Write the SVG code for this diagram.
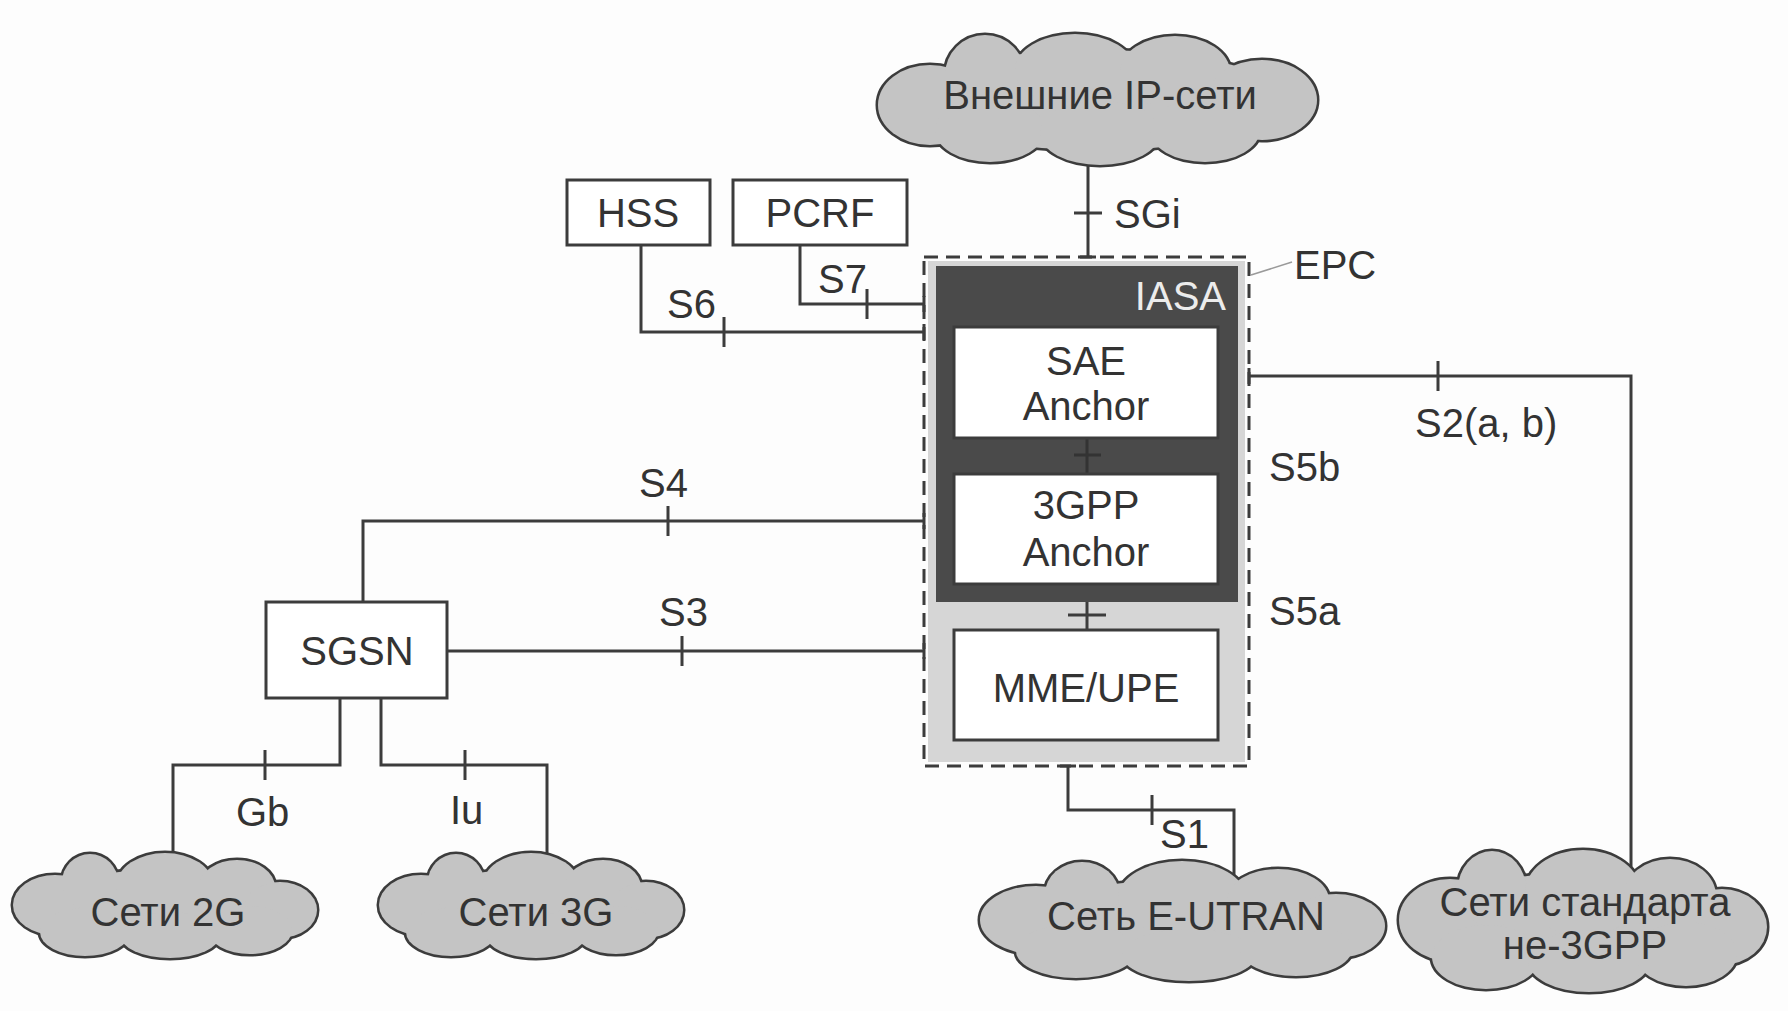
<svg xmlns="http://www.w3.org/2000/svg" xmlns:xlink="http://www.w3.org/1999/xlink" width="1788" height="1011" viewBox="0 0 1788 1011">
<style>
.ln{stroke:#3c3c3c;stroke-width:3;fill:none}
.box{fill:#fff;stroke:#3c3c3c;stroke-width:3}
.cs{fill:#3c3c3c;stroke:#3c3c3c;stroke-width:5}
.cf{fill:#c4c4c4;stroke:none}
.t{font-family:"Liberation Sans",Arial,sans-serif;font-size:40px;fill:#333}
.m{text-anchor:middle}
</style>
<defs>
<g id="shIP">
<ellipse cx="1097" cy="100" rx="190" ry="50"/>
<ellipse cx="930" cy="105" rx="52" ry="40"/>
<ellipse cx="985" cy="75" rx="40" ry="40"/>
<ellipse cx="1075" cy="70" rx="60" ry="36"/>
<ellipse cx="1175" cy="72" rx="55" ry="36"/>
<ellipse cx="1262" cy="100" rx="55" ry="40"/>
<ellipse cx="990" cy="130" rx="55" ry="32"/>
<ellipse cx="1100" cy="133" rx="60" ry="32"/>
<ellipse cx="1205" cy="130" rx="55" ry="32"/>
</g>
<g id="sh2G">
<ellipse cx="165" cy="907" rx="120" ry="38"/>
<ellipse cx="55" cy="905" rx="42" ry="30"/>
<ellipse cx="90" cy="882" rx="28" ry="28"/>
<ellipse cx="165" cy="885" rx="48" ry="32"/>
<ellipse cx="237" cy="887" rx="38" ry="27"/>
<ellipse cx="280" cy="910" rx="37" ry="28"/>
<ellipse cx="85" cy="932" rx="45" ry="24"/>
<ellipse cx="170" cy="935" rx="50" ry="23"/>
<ellipse cx="250" cy="930" rx="42" ry="24"/>
</g>
<g id="shEU">
<ellipse cx="1182" cy="923" rx="160" ry="43"/>
<ellipse cx="1036" cy="920" rx="56" ry="34"/>
<ellipse cx="1082" cy="894" rx="37" ry="32"/>
<ellipse cx="1182" cy="898" rx="64" ry="37"/>
<ellipse cx="1278" cy="900" rx="51" ry="31"/>
<ellipse cx="1336" cy="926" rx="49" ry="32"/>
<ellipse cx="1076" cy="951" rx="60" ry="27"/>
<ellipse cx="1189" cy="955" rx="67" ry="26"/>
<ellipse cx="1296" cy="949" rx="56" ry="27"/>
</g>
<g id="shN3">
<ellipse cx="1583" cy="923" rx="145" ry="51"/>
<ellipse cx="1450" cy="920" rx="51" ry="41"/>
<ellipse cx="1492" cy="889" rx="34" ry="38"/>
<ellipse cx="1583" cy="893" rx="58" ry="43"/>
<ellipse cx="1670" cy="896" rx="46" ry="37"/>
<ellipse cx="1722" cy="927" rx="45" ry="38"/>
<ellipse cx="1486" cy="957" rx="54" ry="32"/>
<ellipse cx="1589" cy="961" rx="61" ry="31"/>
<ellipse cx="1686" cy="954" rx="51" ry="32"/>
</g>
</defs>
<rect x="0" y="0" width="1788" height="1011" fill="#fdfdfd"/>

<g id="connectors">
<!-- SGi -->
<path class="ln" d="M1088,155 V257 M1080,257 H1096 M1074,213 H1102"/>
<!-- S6 -->
<path class="ln" d="M641,245 V332 H924 M924,324 V340 M724,317 V347"/>
<!-- S7 -->
<path class="ln" d="M800,245 V304 H924 M924,296 V312 M867,289 V319"/>
<!-- S4 -->
<path class="ln" d="M363,602 V521 H924 M924,513 V529 M668,506 V536"/>
<!-- S3 -->
<path class="ln" d="M447,651 H924 M924,643 V659 M682,636 V666"/>
<!-- S2 -->
<path class="ln" d="M1249,376 H1631 V878 M1249,368 V384 M1438,361 V391"/>
<!-- Gb -->
<path class="ln" d="M340,698 V765 H173 V862 M265,750 V780"/>
<!-- Iu -->
<path class="ln" d="M381,698 V765 H547 V862 M465,750 V780"/>
<!-- S1 -->
<path class="ln" d="M1068,766 V810 H1234 V880 M1060,766 H1076 M1152,795 V825"/>
<text class="t" x="1114" y="228">SGi</text>
<text class="t" x="667" y="318">S6</text>
<text class="t" x="818" y="293">S7</text>
<text class="t" x="639" y="497">S4</text>
<text class="t" x="659" y="626">S3</text>
<text class="t" x="1415" y="437">S2(a, b)</text>
<text class="t" x="1269" y="481">S5b</text>
<text class="t" x="1269" y="625">S5a</text>
<text class="t" x="236" y="826">Gb</text>
<text class="t" x="450" y="824">Iu</text>
<text class="t" x="1160" y="848">S1</text>
</g>

<g id="cloud-ip">
<use xlink:href="#shIP" href="#shIP" class="cs"/>
<use xlink:href="#shIP" href="#shIP" class="cf"/>
<text class="t m" x="1100" y="109">Внешние IP-сети</text>
</g>

<g id="hss">
<rect class="box" x="567" y="180" width="143" height="65"/>
<text class="t m" x="638" y="227">HSS</text>
</g>
<g id="pcrf">
<rect class="box" x="733" y="180" width="174" height="65"/>
<text class="t m" x="820" y="227">PCRF</text>
</g>

<g id="epc">
<rect x="928" y="261" width="317" height="501" fill="#d6d6d6"/>
<rect x="924" y="257" width="325" height="509" fill="none" stroke="#3c3c3c" stroke-width="3" stroke-dasharray="14 8"/>
<line x1="1251" y1="275" x2="1292" y2="262" stroke="#9a9a9a" stroke-width="1.5"/>
<text class="t" x="1294" y="279">EPC</text>
</g>

<g id="iasa">
<rect x="936" y="266" width="302" height="336" fill="#4a4a4a"/>
<text class="t" x="1226" y="310" text-anchor="end" style="fill:#ececec">IASA</text>
</g>

<g id="s5-links">
<path d="M1087,438 V474 M1074,455 H1101" stroke="#333" stroke-width="3" fill="none"/>
<path class="ln" d="M1087,602 V630 M1068,615 H1106"/>
</g>

<g id="sae-anchor">
<rect class="box" x="954" y="327" width="264" height="111"/>
<text class="t m" x="1086" y="375">SAE</text>
<text class="t m" x="1086" y="420">Anchor</text>
</g>
<g id="gpp-anchor">
<rect class="box" x="954" y="474" width="264" height="110"/>
<text class="t m" x="1086" y="519">3GPP</text>
<text class="t m" x="1086" y="566">Anchor</text>
</g>
<g id="mme-upe">
<rect class="box" x="954" y="630" width="264" height="110"/>
<text class="t m" x="1086" y="702">MME/UPE</text>
</g>

<g id="sgsn">
<rect class="box" x="266" y="602" width="181" height="96"/>
<text class="t m" x="357" y="665">SGSN</text>
</g>

<g id="cloud-2g">
<use xlink:href="#sh2G" href="#sh2G" class="cs"/>
<use xlink:href="#sh2G" href="#sh2G" class="cf"/>
<text class="t m" x="168" y="926">Сети 2G</text>
</g>
<g id="cloud-3g">
<g transform="translate(366,0)">
<use xlink:href="#sh2G" href="#sh2G" class="cs"/>
<use xlink:href="#sh2G" href="#sh2G" class="cf"/>
</g>
<text class="t m" x="536" y="926">Сети 3G</text>
</g>
<g id="cloud-eutran">
<use xlink:href="#shEU" href="#shEU" class="cs"/>
<use xlink:href="#shEU" href="#shEU" class="cf"/>
<text class="t m" x="1186" y="930">Сеть E-UTRAN</text>
</g>
<g id="cloud-non3gpp">
<use xlink:href="#shN3" href="#shN3" class="cs"/>
<use xlink:href="#shN3" href="#shN3" class="cf"/>
<text class="t m" x="1585" y="916">Сети стандарта</text>
<text class="t m" x="1585" y="959">не-3GPP</text>
</g>
</svg>
